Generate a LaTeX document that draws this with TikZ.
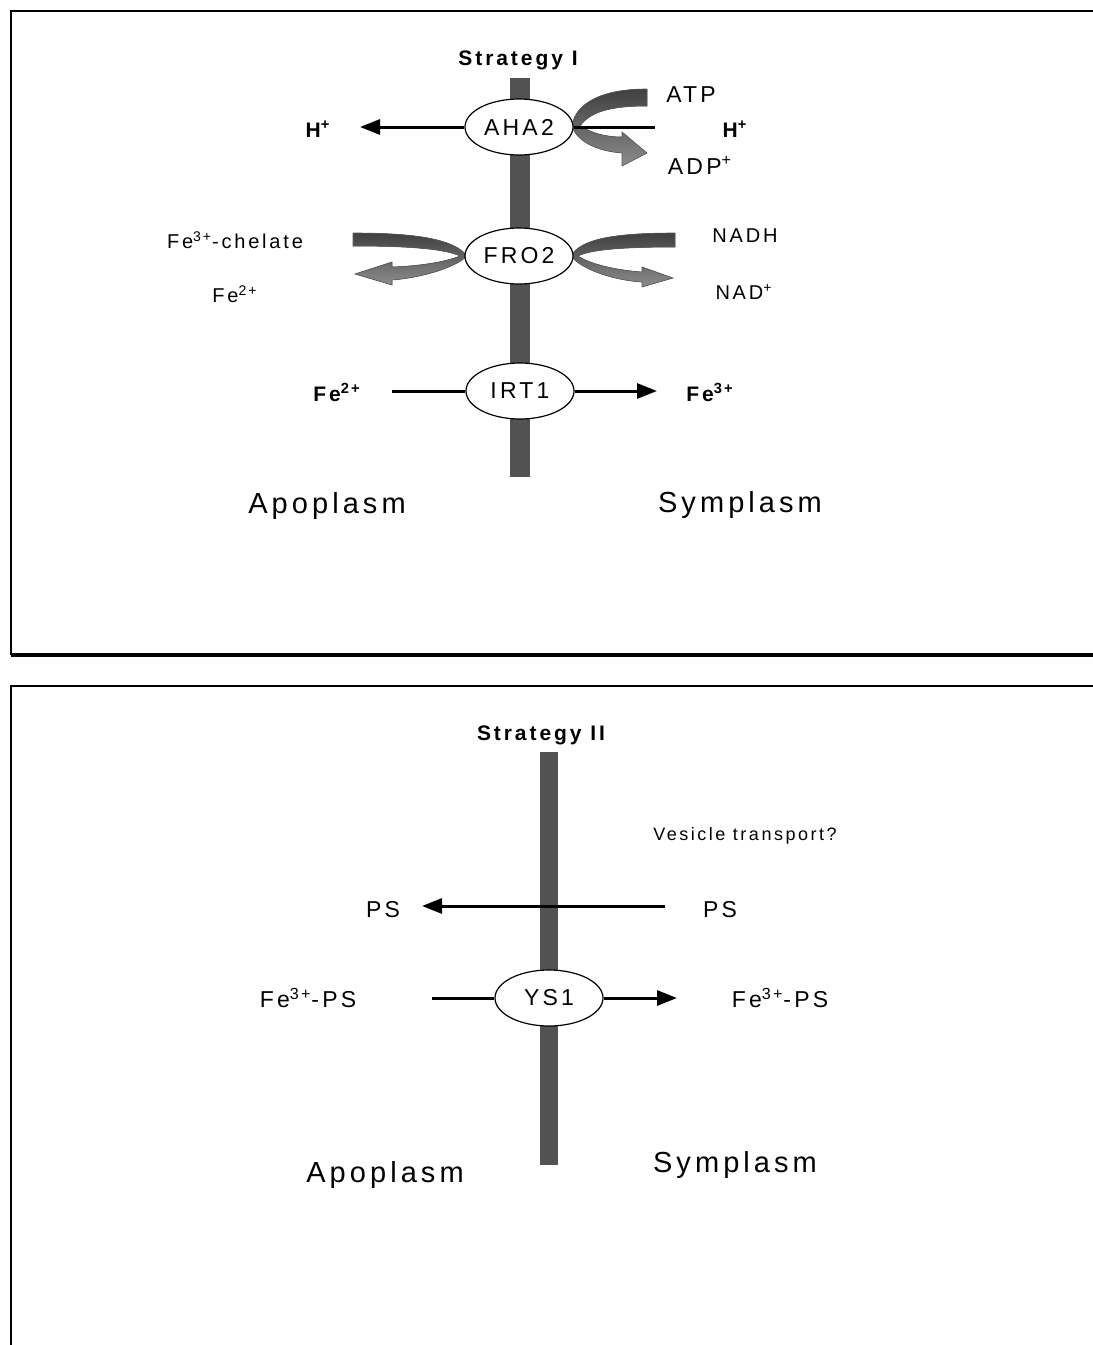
\documentclass[tikz,border=0pt]{standalone}
\usepackage{fontspec}
\setmainfont{Liberation Sans}[LetterSpace=14]
\usetikzlibrary{shapes.geometric,arrows.meta}

\begin{document}
\begin{tikzpicture}[
    x=0.5pt, y=-0.5pt,
    membrane/.style={fill=black!68},
    carrier/.style={draw, ellipse, fill=white, line width=0.6pt, minimum width=54pt, minimum height=28pt, inner sep=0pt, font=\fontsize{11.5}{13}\selectfont},
    lbl/.style={font=\fontsize{10}{12}\selectfont, inner sep=0pt},
    mlbl/.style={font=\fontsize{11.5}{13}\selectfont, inner sep=0pt},
    blbl/.style={font=\fontsize{10.5}{12}\selectfont\bfseries, inner sep=0pt},
    region/.style={font=\fontsize{14.5}{17}\selectfont, inner sep=0pt},
    arrow/.style={-{Triangle[length=10pt, width=7.5pt]}, line width=1.5pt},
    link/.style={line width=1.5pt},
    hook/.style={top color=black!75, bottom color=black!45, draw=black!65, line width=0.3pt},
    frame/.style={line width=1pt}
]
\useasboundingbox (0,0) rectangle (1093,1345);

% panel frames
\draw[frame] (1093,11) -- (11,11) -- (11,655);
\draw[line width=2pt] (11,655) -- (1093,655);
\draw[frame] (1093,686) -- (11,686) -- (11,1345);

% Strategy I
\node[blbl] (titleI) at (518,60) {Strategy I};
\fill[membrane] (510,78) rectangle (530,477);

% ATP hook and FRO2 hooks (drawn under the carriers)
\filldraw[hook] (647,89) -- (647,106) .. controls (610,106) and (590,112) .. (580,126)
    .. controls (592,133) and (605,137) .. (622,137) -- (622,132) -- (647,153) -- (622,166) -- (622,153)
    .. controls (595,151) and (575,140) .. (572,125) .. controls (576,104) and (600,89) .. (647,89) -- cycle;
\filldraw[hook] (353,233) .. controls (420,233) and (455,240) .. (467,256)
    .. controls (455,268) and (420,278) .. (392,280) -- (392,285) -- (355,274) -- (392,262) -- (392,267)
    .. controls (420,266) and (445,262) .. (460,256) .. controls (445,249) and (410,246) .. (353,246) -- cycle;
\filldraw[hook] (675,233) .. controls (610,233) and (580,240) .. (571,256)
    .. controls (580,268) and (610,280) .. (642,282) -- (642,287) -- (673,278) -- (642,267) -- (642,272)
    .. controls (615,270) and (590,264) .. (578,256) .. controls (590,250) and (620,247) .. (675,247) -- cycle;

\node[carrier] (aha) at (519,127) {AHA2};
\node[carrier] (fro) at (519,256) {FRO2};
\node[carrier] (irt) at (520,391) {IRT1};

\node[blbl] (hout) at (318,129) {H\textsuperscript{+}};
\node[blbl] (hin) at (735,129) {H\textsuperscript{+}};
\node[mlbl] (atp) at (691,95) {ATP};
\node[mlbl] (adp) at (700,165) {ADP\textsuperscript{+}};
\node[lbl] (chelate) at (235,240) {Fe\textsuperscript{3+}-chelate};
\node[lbl] (fetwo) at (235,294) {Fe\textsuperscript{2+}};
\node[lbl] (nadh) at (745,236) {NADH};
\node[lbl] (nad) at (744,292) {NAD\textsuperscript{+}};
\node[blbl] (feout) at (337,392) {Fe\textsuperscript{2+}};
\node[blbl] (fein) at (710,392) {Fe\textsuperscript{3+}};
\node[region] (apoI) at (327,506) {Apoplasm};
\node[region] (symI) at (740,505) {Symplasm};

\coordinate (hL) at (360,127);
\coordinate (hR) at (655,127);
\coordinate (irtL) at (392,391);
\coordinate (irtR) at (657,391);

\draw[arrow] (aha.west) -- (hL);
\draw[link] (aha.east) -- (hR);
\draw[link] (irtL) -- (irt.west);
\draw[arrow] (irt.east) -- (irtR);

% Strategy II
\node[blbl] (titleII) at (541,735) {Strategy II};
\fill[membrane] (540,752) rectangle (558,1165);

\node[carrier] (ys) at (549,998) {YS1};
\node[font=\fontsize{9}{11}\selectfont, inner sep=0pt] (vesicle) at (745,836) {Vesicle transport?};
\node[mlbl] (psout) at (383,910) {PS};
\node[mlbl] (psin) at (720,910) {PS};
\node[mlbl] (fepsout) at (308,998) {Fe\textsuperscript{3+}-PS};
\node[mlbl] (fepsin) at (780,998) {Fe\textsuperscript{3+}-PS};
\node[region] (apoII) at (385,1175) {Apoplasm};
\node[region] (symII) at (735,1165) {Symplasm};

\coordinate (psR) at (665,906);
\coordinate (psL) at (422,906);
\coordinate (ysL) at (432,998);
\coordinate (ysR) at (677,998);

\draw[arrow] (psR) -- (psL);
\draw[link] (ysL) -- (ys.west);
\draw[arrow] (ys.east) -- (ysR);
\end{tikzpicture}
\end{document}
